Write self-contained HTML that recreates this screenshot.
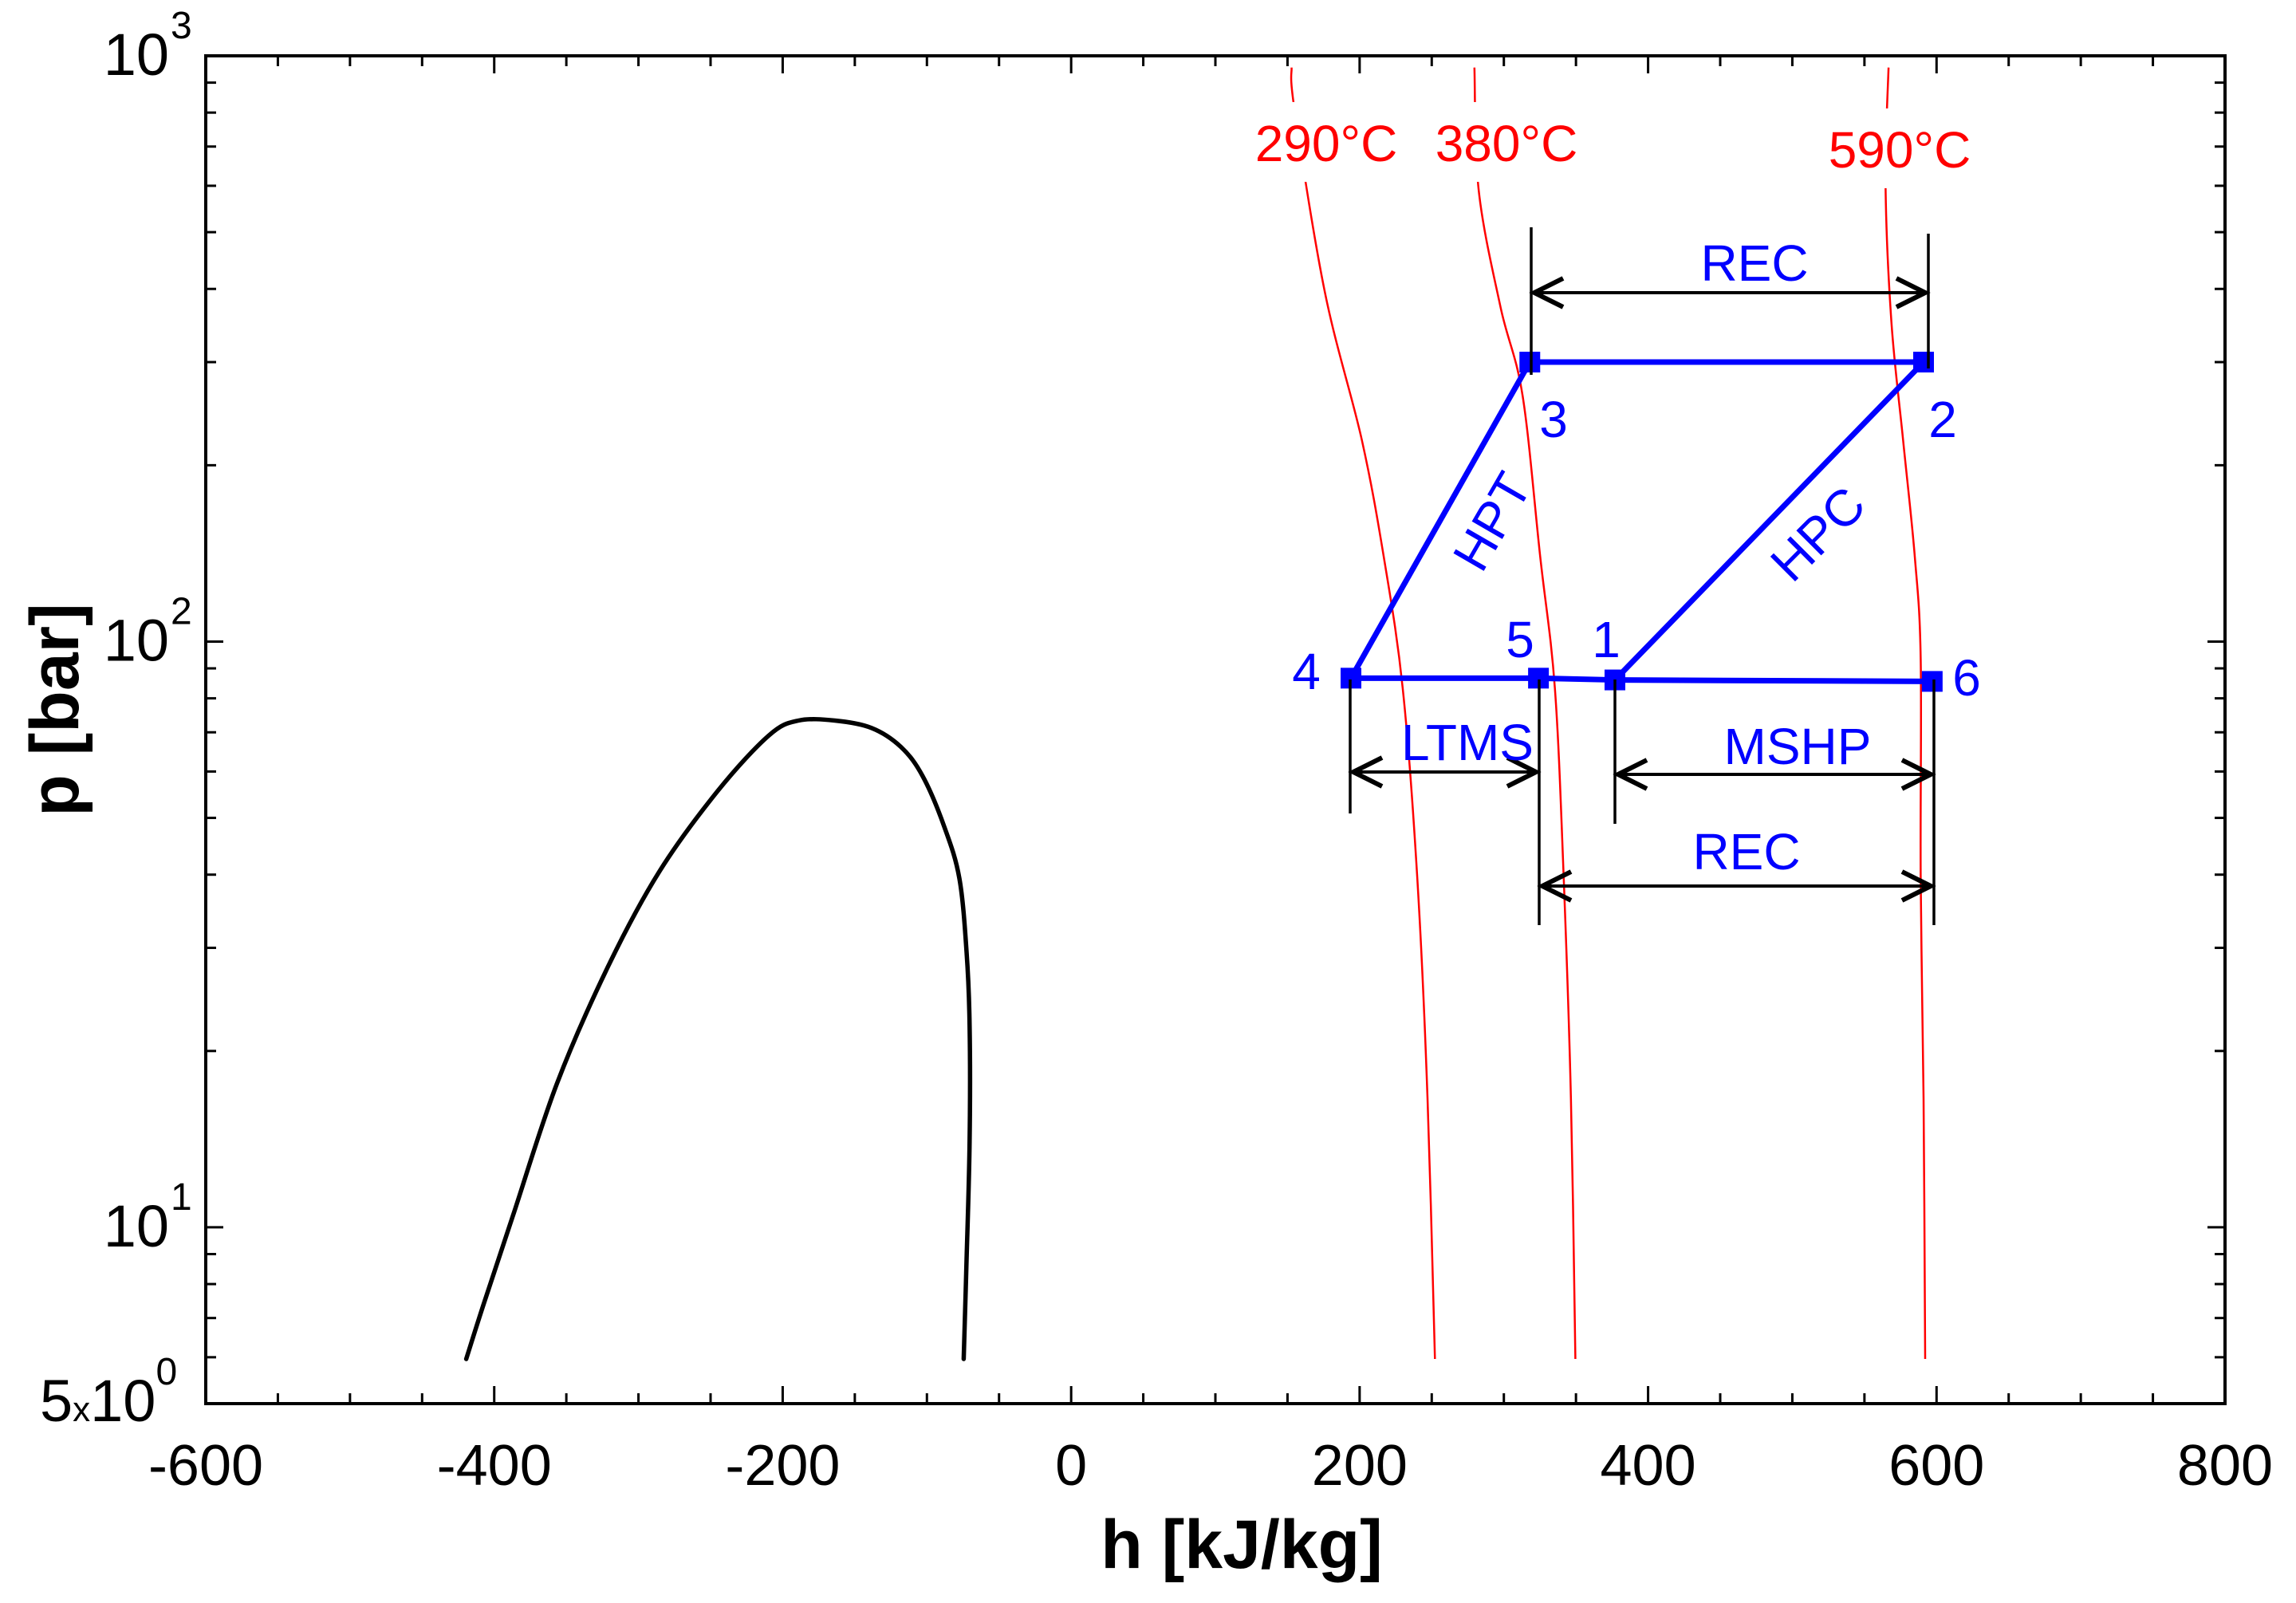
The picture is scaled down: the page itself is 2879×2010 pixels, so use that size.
<!DOCTYPE html>
<html><head><meta charset="utf-8"><style>
html,body{margin:0;padding:0;background:#fff;}
svg{display:block;font-family:"Liberation Sans",Arial,sans-serif;}
</style></head><body>
<svg id="chart" width="2879" height="2010" viewBox="0 0 2879 2010" xmlns="http://www.w3.org/2000/svg">
<rect width="2879" height="2010" fill="#fff"/>
<g id="grid"></g>
<g id="marks"></g>
<g id="annot"></g>
</svg>
<script>
// ---- data ----
const xTicks = [-600,-400,-200,0,200,400,600,800];
const xTickLabels = ["-600","-400","-200","0","200","400","600","800"];
const yDecades = [10,100,1000];
const domeH = [-419.4,-407.2,-387,-356.5,-321,-285.5,-245,-209.4,-189,-163.8,-138.4,-118.1,-102.9,-87.7,-77.5,-72.5,-70.4,-70.4,-72.5,-74.5];
const domeP = [5.96,7.41,10.47,17.6,27.9,40.5,55.6,69.2,73.3,73.3,71.2,66.1,58.9,48.1,39.4,29.5,22.1,14.0,8.81,5.96];
const isoNames = ["290°C","380°C","590°C"];
const iso290H = [152.8,154.9,176,201.5,216.7,229.9,240,247.1,252.2];
const iso380H = [279.6,282.6,297.8,313,325.2,335.4,341.5,346.5,349.6];
const iso590H = [566.7,564.6,568.7,576.8,584.9,589,589,591,592.1];
const iso290P = [955,808,393.6,221,139.6,83.2,39.4,16.6,5.96];
const iso380P = [955,589,371.5,263,139.6,83.2,39.4,16.6,5.96];
const iso590P = [955,606,350.8,221,139.6,93.3,39.4,16.6,5.96];
const stateNames = ["1","2","3","4","5","6"];
const stateH = [377,591,318,194,324,597];
const stateP = [86,300,300,86.6,86.6,85.5];

// ---- axes ----
const L=258,R=2790,T=70,B=1760;
const X=h=>L+(h+600)*(R-L)/1400;
const Y=p=>T+(3-Math.log10(p))*(B-T)/Math.log10(1000/5);
const NS="http://www.w3.org/2000/svg";
function mk(tag,attrs,parent,text){const e=document.createElementNS(NS,tag);for(const k in attrs)e.setAttribute(k,attrs[k]);if(text!==undefined)e.textContent=text;parent.appendChild(e);return e;}
const grid=document.getElementById('grid'),marks=document.getElementById('marks'),annot=document.getElementById('annot');

let fr=mk('rect',{x:L,y:T,width:R-L,height:B-T,fill:'none',stroke:'#000','stroke-width':4},grid);



for(let h=-600;h<=800;h+=50){
  const major=(h%200===0);const len=major?22:13;const x=X(h);
  let t1=mk('line',{x1:x,y1:B,x2:x,y2:B-len,stroke:'#000','stroke-width':3},grid);
  
  
  let t2=mk('line',{x1:x,y1:T,x2:x,y2:T+len,stroke:'#000','stroke-width':3},grid);
  
  
}
xTicks.forEach((v,i)=>{
  let t=mk('text',{x:X(v),y:1862,'font-size':72,'text-anchor':'middle',fill:'#000'},grid,xTickLabels[i]);
  
  
});
const yt=[5,6,7,8,9,10,20,30,40,50,60,70,80,90,100,200,300,400,500,600,700,800,900,1000];
yt.forEach(v=>{
  const major=yDecades.includes(v);const len=major?22:13;const y=Y(v);
  let a=mk('line',{x1:L,y1:y,x2:L+len,y2:y,stroke:'#000','stroke-width':3},grid);
  
  
  let b=mk('line',{x1:R,y1:y,x2:R-len,y2:y,stroke:'#000','stroke-width':3},grid);
  
  
});
yDecades.forEach(v=>{
  const y=Y(v);const e=Math.round(Math.log10(v));
  let t=mk('text',{x:212,y:y+24,'font-size':74,'text-anchor':'end',fill:'#000'},grid,"10");
  
  
  let s=mk('text',{x:214,y:y-22,'font-size':48,fill:'#000'},grid,String(e));
  
  
});
let y5=mk('text',{x:50,y:1782,'font-size':74,fill:'#000'},grid);


y5.innerHTML='5<tspan font-size="44">x</tspan>10<tspan font-size="48" dy="-46">0</tspan>';

let xt=mk('text',{x:1557,y:1966,'font-size':86,'font-weight':'bold','text-anchor':'middle',fill:'#000'},grid,"h [kJ/kg]");


let ytl=mk('text',{x:0,y:0,'font-size':86,'font-weight':'bold','text-anchor':'middle',fill:'#000',transform:'translate(98,890) rotate(-90)'},grid,"p [bar]");



// ---- series ----
function smoothPath(hs,ps){
  const pts=hs.map((h,i)=>[X(h),Y(ps[i])]);
  let d='M'+pts[0][0].toFixed(1)+' '+pts[0][1].toFixed(1);
  for(let i=0;i<pts.length-1;i++){
    const p0=pts[i-1]||pts[i],p1=pts[i],p2=pts[i+1],p3=pts[i+2]||p2;
    const c1=[p1[0]+(p2[0]-p0[0])/6,p1[1]+(p2[1]-p0[1])/6];
    const c2=[p2[0]-(p3[0]-p1[0])/6,p2[1]-(p3[1]-p1[1])/6];
    d+=` C${c1[0].toFixed(1)} ${c1[1].toFixed(1)} ${c2[0].toFixed(1)} ${c2[1].toFixed(1)} ${p2[0].toFixed(1)} ${p2[1].toFixed(1)}`;
  }
  return d;
}
let dome=mk('path',{d:smoothPath(domeH,domeP),fill:'none',stroke:'#000','stroke-width':5.5,'stroke-linejoin':'round','stroke-linecap':'round'},marks);



const isoH=[iso290H,iso380H,iso590H],isoP=[iso290P,iso380P,iso590P];
const isoLabelPos=[[1663,178],[1889,178],[2382,186]];
isoH.forEach((hs,k)=>{
  let p=mk('path',{d:smoothPath(hs,isoP[k]),fill:'none',stroke:'#f00','stroke-width':2.5},marks);
  
  
});
isoNames.forEach((n,k)=>{
  const [cx,cy]=isoLabelPos[k];
  let bg=mk('rect',{x:cx-95,y:cy-50,width:190,height:100,fill:'#fff'},marks);
  
  
  let t=mk('text',{x:cx,y:cy+24,'font-size':64,'text-anchor':'middle',fill:'#f00'},marks,n);
  
  
});

const seg=[[2,1],[2,3],[0,1],[3,4],[4,0],[0,5]];
seg.forEach(([a,b])=>{
  let l=mk('line',{x1:X(stateH[a]),y1:Y(stateP[a]),x2:X(stateH[b]),y2:Y(stateP[b]),stroke:'#00f','stroke-width':7},marks);
  
  
});
stateH.forEach((h,i)=>{
  let m=mk('rect',{x:X(h)-13,y:Y(stateP[i])-13,width:26,height:26,fill:'#00f'},marks);
  
  
});

// ---- annotations (pixel space) ----
function vline(x,y1,y2){let l=mk('line',{x1:x,y1:y1,x2:x,y2:y2,stroke:'#000','stroke-width':3.5},annot);}
function arrow(x1,x2,y,name){
  let g=mk('g',{},annot);
  
  
  mk('line',{x1:x1+4,y1:y,x2:x2-4,y2:y,stroke:'#000','stroke-width':4},g);
  mk('path',{d:`M${x1+40} ${y-18} L${x1+4} ${y} L${x1+40} ${y+18}`,fill:'none',stroke:'#000','stroke-width':6},g);
  mk('path',{d:`M${x2-40} ${y-18} L${x2-4} ${y} L${x2-40} ${y+18}`,fill:'none',stroke:'#000','stroke-width':6},g);
}
function btext(x,y,s,name,size,rot){
  let a={x:x,y:y,'font-size':size||64,'text-anchor':'middle',fill:'#00f'};
  if(rot)a.transform=`rotate(${rot} ${x} ${y})`;
  let t=mk('text',a,annot,s);
  
  
}
vline(1920,285,470);vline(2418,293,462);
arrow(1920,2418,367,'rec-top-arrow');
btext(2200,352,'REC','rec-top-label');
vline(1693,852,1020);vline(1930,852,1160);vline(2025,852,1033);vline(2425,852,1160);
arrow(1693,1930,968,'ltms-arrow');
btext(1840,953,'LTMS','ltms-label');
arrow(2025,2425,971,'mshp-arrow');
btext(2254,958,'MSHP','mshp-label');
arrow(1930,2425,1111,'rec-bottom-arrow');
btext(2190,1090,'REC','rec-bottom-label');
btext(1890,665,'HPT','hpt-label',64,-60);
btext(2295,685,'HPC','hpc-label',64,-45);
btext(1948,548,'3','state-label-3');
btext(2436,548,'2','state-label-2');
btext(1638,864,'4','state-label-4');
btext(1906,824,'5','state-label-5');
btext(2014,824,'1','state-label-1');
btext(2466,872,'6','state-label-6');
</script>
</body></html>
